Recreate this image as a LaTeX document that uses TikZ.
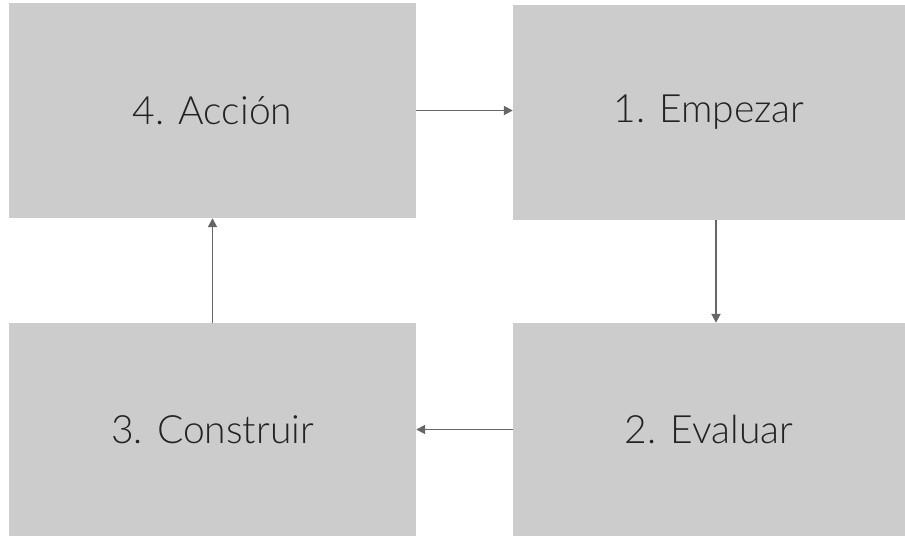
\documentclass[tikz,border=0pt]{standalone}
\usepackage{fontspec}
\setmainfont{Lato Light}
\usetikzlibrary{arrows.meta}
\definecolor{boxgrey}{HTML}{CCCCCC}
\definecolor{linegrey}{HTML}{666666}
\definecolor{txt}{HTML}{222222}
\begin{document}
\begin{tikzpicture}[x=1pt,y=-1pt,
  stepbox/.style={fill=boxgrey,draw=none,inner sep=0pt,text=txt,font=\fontsize{39}{45}\selectfont},
  conn/.style={draw=linegrey,line width=1.8pt,-{Triangle[length=9pt,width=9pt]}}]
\useasboundingbox (0,0) rectangle (905,536);
\node[stepbox,minimum width=407pt,minimum height=215pt] (a4) at (212.5,110.5) {4. Acción};
\node[stepbox,minimum width=392pt,minimum height=215pt] (a1) at (709,112.5) {1. Empezar};
\node[stepbox,minimum width=407pt,minimum height=213pt] (a3) at (212.5,429.5) {3. Construir};
\node[stepbox,minimum width=392pt,minimum height=213pt] (a2) at (709,429.5) {2. Evaluar};
\draw[conn] (a4.east) -- ([yshift=2pt]a1.west);
\draw[conn] ([xshift=7pt]a1.south) -- ([xshift=7pt]a2.north);
\draw[conn] (a2.west) -- (a3.east);
\draw[conn] (a3.north) -- (a4.south);
\end{tikzpicture}
\end{document}
